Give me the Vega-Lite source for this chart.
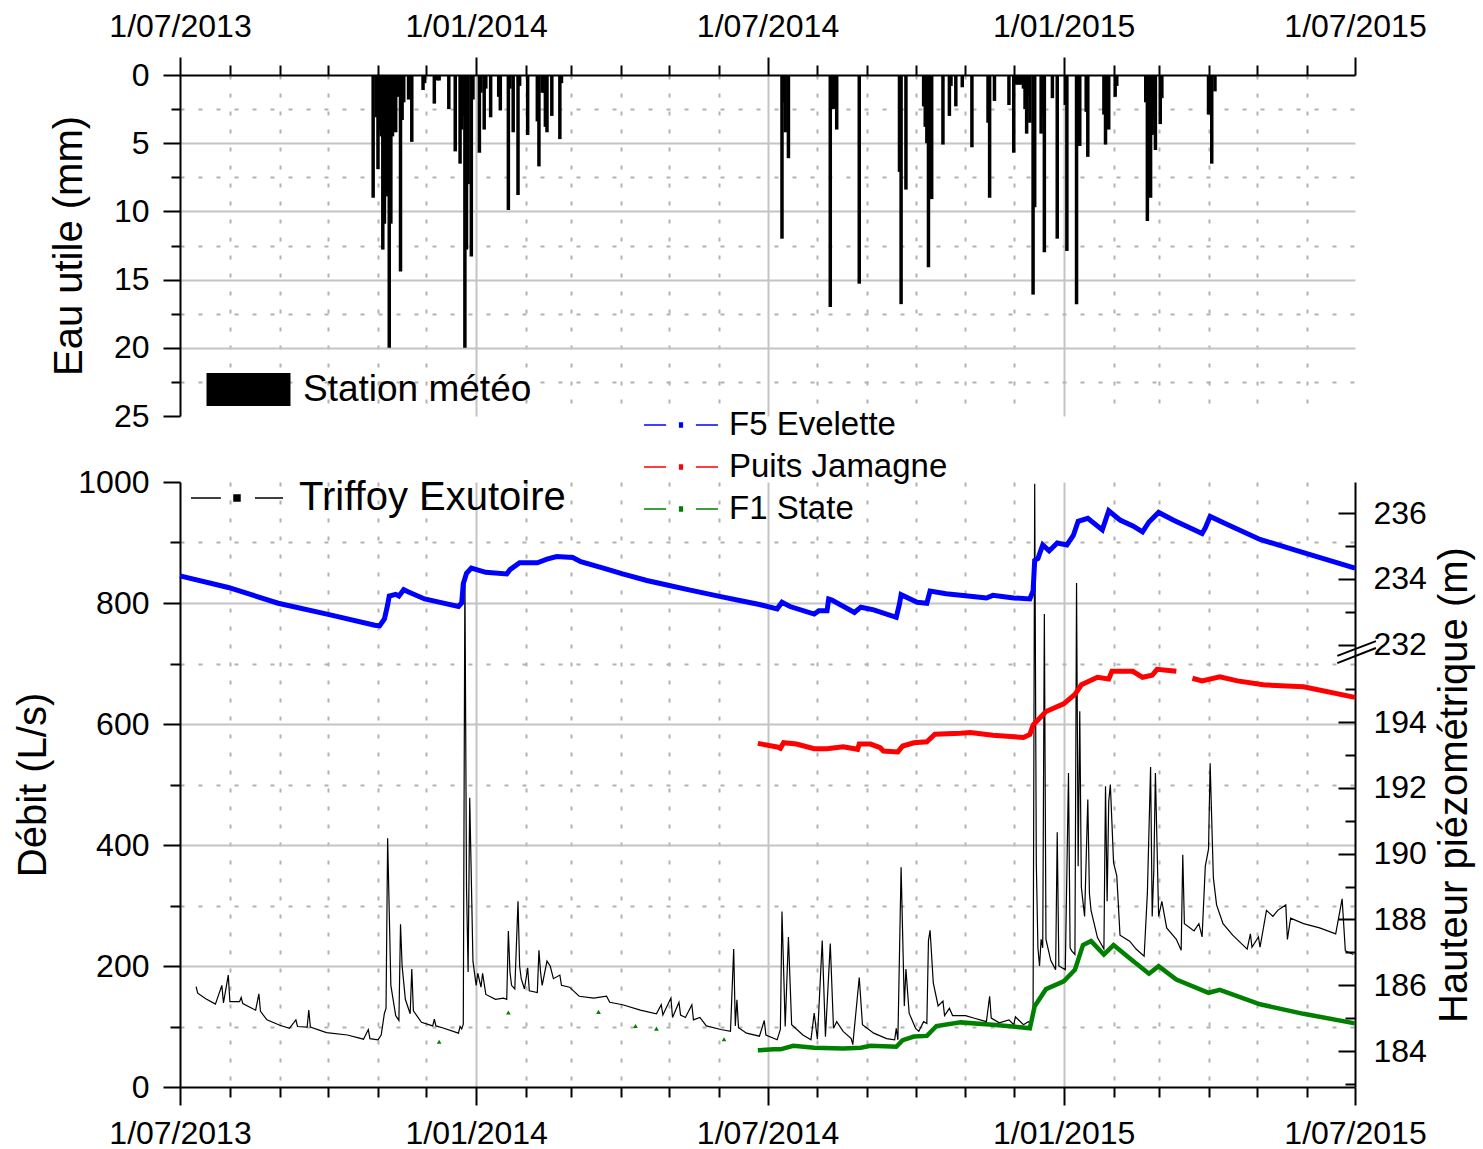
{
  "$schema": "https://vega.github.io/schema/vega-lite/v6.json",
  "background": "white",
  "padding": {"left": 13, "top": 10, "right": 5, "bottom": 5},
  "config": {
    "font": "Liberation Sans",
    "view": {"stroke": null},
    "axis": {"labelFont": "Liberation Sans", "titleFont": "Liberation Sans", "labelFontSize": 32, "titleFontSize": 40, "titleFontWeight": "normal", "labelColor": "black", "titleColor": "black", "domainColor": "black", "domainWidth": 2, "tickColor": "black", "tickWidth": 2, "gridWidth": 2},
    "legend": {"labelFont": "Liberation Sans", "labelColor": "black"}
  },
  "datasets": {
    "rain": [
      {"t":"2013-10-29","mm":9.0},{"t":"2013-10-31","mm":3.1},{"t":"2013-11-01","mm":6.9},{"t":"2013-11-02","mm":4.0},{"t":"2013-11-03","mm":4.5},{"t":"2013-11-04","mm":12.8},{"t":"2013-11-05","mm":10.9},{"t":"2013-11-06","mm":4.2},{"t":"2013-11-07","mm":8.9},{"t":"2013-11-08","mm":20.0},{"t":"2013-11-09","mm":10.9},{"t":"2013-11-10","mm":4.5},{"t":"2013-11-11","mm":3.8},{"t":"2013-11-12","mm":4.2},{"t":"2013-11-13","mm":1.6},{"t":"2013-11-15","mm":14.4},{"t":"2013-11-16","mm":3.3},{"t":"2013-11-17","mm":2.0},{"t":"2013-11-20","mm":1.8},{"t":"2013-11-22","mm":4.9},{"t":"2013-11-29","mm":1.1},{"t":"2013-11-30","mm":0.6},{"t":"2013-12-06","mm":2.1},{"t":"2013-12-08","mm":0.4},{"t":"2013-12-09","mm":0.4},{"t":"2013-12-15","mm":2.5},{"t":"2013-12-19","mm":5.6},{"t":"2013-12-22","mm":6.5},{"t":"2013-12-23","mm":4.0},{"t":"2013-12-24","mm":3.0},{"t":"2013-12-25","mm":20.0},{"t":"2013-12-26","mm":12.8},{"t":"2013-12-27","mm":8.0},{"t":"2013-12-29","mm":13.3},{"t":"2013-12-30","mm":1.8},
      {"t":"2014-01-03","mm":5.7},{"t":"2014-01-04","mm":1.3},{"t":"2014-01-06","mm":4.0},{"t":"2014-01-07","mm":1.0},{"t":"2014-01-10","mm":3.1},{"t":"2014-01-15","mm":1.6},{"t":"2014-01-16","mm":2.6},{"t":"2014-01-21","mm":9.9},{"t":"2014-01-22","mm":1.0},{"t":"2014-01-24","mm":4.2},{"t":"2014-01-27","mm":8.8},{"t":"2014-01-28","mm":0.8},{"t":"2014-02-02","mm":4.4},{"t":"2014-02-08","mm":3.4},{"t":"2014-02-09","mm":6.7},{"t":"2014-02-11","mm":1.3},{"t":"2014-02-12","mm":1.3},{"t":"2014-02-13","mm":3.8},{"t":"2014-02-14","mm":4.2},{"t":"2014-02-17","mm":3.0},{"t":"2014-02-22","mm":4.7},{"t":"2014-02-23","mm":0.6},
      {"t":"2014-07-10","mm":12.0},{"t":"2014-07-11","mm":2.0},{"t":"2014-07-12","mm":4.2},{"t":"2014-07-14","mm":6.1},{"t":"2014-08-09","mm":17.0},{"t":"2014-08-10","mm":1.5},{"t":"2014-08-11","mm":2.5},{"t":"2014-08-13","mm":4.0},{"t":"2014-08-27","mm":15.3},{"t":"2014-09-21","mm":7.1},{"t":"2014-09-22","mm":16.8},{"t":"2014-09-25","mm":8.4},{"t":"2014-10-06","mm":2.3},{"t":"2014-10-07","mm":3.8},{"t":"2014-10-08","mm":5.0},{"t":"2014-10-09","mm":14.1},{"t":"2014-10-11","mm":9.1},{"t":"2014-10-18","mm":5.1},{"t":"2014-10-22","mm":3.0},{"t":"2014-10-23","mm":0.8},{"t":"2014-10-26","mm":2.3},{"t":"2014-10-30","mm":0.9},{"t":"2014-11-05","mm":5.3},{"t":"2014-11-15","mm":3.5},{"t":"2014-11-16","mm":9.0},{"t":"2014-11-19","mm":1.9},{"t":"2014-11-28","mm":2.2},{"t":"2014-12-01","mm":5.7},{"t":"2014-12-02","mm":0.7},{"t":"2014-12-03","mm":0.7},{"t":"2014-12-04","mm":0.7},{"t":"2014-12-05","mm":0.7},{"t":"2014-12-06","mm":0.7},{"t":"2014-12-07","mm":1.0},{"t":"2014-12-08","mm":2.5},{"t":"2014-12-09","mm":4.3},{"t":"2014-12-10","mm":1.5},{"t":"2014-12-11","mm":3.5},{"t":"2014-12-13","mm":16.1},{"t":"2014-12-14","mm":9.7},{"t":"2014-12-18","mm":4.3},{"t":"2014-12-19","mm":3.0},{"t":"2014-12-20","mm":13.0},{"t":"2014-12-25","mm":1.7},{"t":"2014-12-28","mm":12.0},
      {"t":"2015-01-02","mm":2.2},{"t":"2015-01-03","mm":12.9},{"t":"2015-01-09","mm":16.8},{"t":"2015-01-11","mm":5.2},{"t":"2015-01-15","mm":2.7},{"t":"2015-01-16","mm":6.0},{"t":"2015-01-26","mm":2.9},{"t":"2015-01-27","mm":5.1},{"t":"2015-01-28","mm":3.5},{"t":"2015-01-29","mm":4.0},{"t":"2015-02-02","mm":1.6},{"t":"2015-02-03","mm":0.8},{"t":"2015-02-21","mm":2.0},{"t":"2015-02-22","mm":10.7},{"t":"2015-02-24","mm":9.0},{"t":"2015-02-25","mm":4.4},{"t":"2015-02-26","mm":3.0},{"t":"2015-02-27","mm":5.5},{"t":"2015-03-02","mm":3.6},{"t":"2015-03-03","mm":1.7},{"t":"2015-04-01","mm":2.9},{"t":"2015-04-02","mm":2.5},{"t":"2015-04-03","mm":6.5},{"t":"2015-04-05","mm":1.2}
    ],
    "triffoy": [
      {"t":"2013-07-11","q":166},{"t":"2013-07-12","q":155},{"t":"2013-07-17","q":146},{"t":"2013-07-23","q":137},{"t":"2013-07-27","q":168},{"t":"2013-07-28","q":139},{"t":"2013-07-31","q":185},{"t":"2013-08-01","q":141},{"t":"2013-08-07","q":141},{"t":"2013-08-08","q":148},{"t":"2013-08-09","q":138},{"t":"2013-08-17","q":127},{"t":"2013-08-19","q":154},{"t":"2013-08-20","q":125},{"t":"2013-08-24","q":111},{"t":"2013-09-01","q":102},{"t":"2013-09-07","q":97},{"t":"2013-09-11","q":111},{"t":"2013-09-12","q":100},{"t":"2013-09-18","q":99},{"t":"2013-09-19","q":127},{"t":"2013-09-20","q":99},{"t":"2013-09-30","q":90},{"t":"2013-10-13","q":86},{"t":"2013-10-23","q":79},{"t":"2013-10-26","q":95},{"t":"2013-10-27","q":80},{"t":"2013-11-01","q":78},{"t":"2013-11-03","q":86},{"t":"2013-11-05","q":122},{"t":"2013-11-06","q":130},{"t":"2013-11-07","q":411},{"t":"2013-11-09","q":168},{"t":"2013-11-12","q":118},{"t":"2013-11-14","q":110},{"t":"2013-11-15","q":269},{"t":"2013-11-16","q":200},{"t":"2013-11-18","q":145},{"t":"2013-11-21","q":121},{"t":"2013-11-22","q":195},{"t":"2013-11-23","q":126},{"t":"2013-11-28","q":107},{"t":"2013-12-05","q":101},{"t":"2013-12-06","q":112},{"t":"2013-12-07","q":101},{"t":"2013-12-11","q":98},{"t":"2013-12-21","q":89},{"t":"2013-12-22","q":100},{"t":"2013-12-23","q":96},{"t":"2013-12-24","q":104},{"t":"2013-12-25","q":850},{"t":"2013-12-26","q":330},{"t":"2013-12-27","q":190},{"t":"2013-12-28","q":478},{"t":"2013-12-30","q":208},
      {"t":"2014-01-01","q":168},{"t":"2014-01-02","q":188},{"t":"2014-01-04","q":165},{"t":"2014-01-05","q":188},{"t":"2014-01-07","q":153},{"t":"2014-01-13","q":145},{"t":"2014-01-18","q":147},{"t":"2014-01-20","q":145},{"t":"2014-01-21","q":258},{"t":"2014-01-22","q":190},{"t":"2014-01-23","q":168},{"t":"2014-01-25","q":162},{"t":"2014-01-27","q":307},{"t":"2014-01-28","q":200},{"t":"2014-01-29","q":179},{"t":"2014-01-31","q":162},{"t":"2014-02-02","q":197},{"t":"2014-02-03","q":159},{"t":"2014-02-08","q":156},{"t":"2014-02-09","q":226},{"t":"2014-02-10","q":190},{"t":"2014-02-11","q":168},{"t":"2014-02-14","q":208},{"t":"2014-02-16","q":200},{"t":"2014-02-18","q":179},{"t":"2014-02-22","q":185},{"t":"2014-02-23","q":168},{"t":"2014-02-28","q":165},{"t":"2014-03-06","q":150},{"t":"2014-03-15","q":147},{"t":"2014-03-23","q":150},{"t":"2014-03-25","q":140},{"t":"2014-04-02","q":136},{"t":"2014-04-13","q":127},{"t":"2014-04-23","q":121},{"t":"2014-04-26","q":136},{"t":"2014-04-27","q":119},{"t":"2014-05-02","q":147},{"t":"2014-05-03","q":115},{"t":"2014-05-07","q":140},{"t":"2014-05-08","q":119},{"t":"2014-05-11","q":115},{"t":"2014-05-15","q":136},{"t":"2014-05-16","q":111},{"t":"2014-05-20","q":115},{"t":"2014-05-24","q":101},{"t":"2014-06-02","q":95},{"t":"2014-06-08","q":92},{"t":"2014-06-10","q":228},{"t":"2014-06-11","q":101},{"t":"2014-06-12","q":144},{"t":"2014-06-13","q":98},{"t":"2014-06-18","q":89},{"t":"2014-06-26","q":84},{"t":"2014-06-29","q":110},{"t":"2014-06-30","q":86},
      {"t":"2014-07-07","q":78},{"t":"2014-07-09","q":95},{"t":"2014-07-10","q":290},{"t":"2014-07-12","q":100},{"t":"2014-07-14","q":248},{"t":"2014-07-16","q":103},{"t":"2014-07-23","q":86},{"t":"2014-07-28","q":78},{"t":"2014-07-30","q":122},{"t":"2014-08-01","q":79},{"t":"2014-08-04","q":242},{"t":"2014-08-06","q":83},{"t":"2014-08-09","q":237},{"t":"2014-08-11","q":97},{"t":"2014-08-13","q":108},{"t":"2014-08-17","q":92},{"t":"2014-08-22","q":80},{"t":"2014-08-23","q":70},{"t":"2014-08-27","q":181},{"t":"2014-08-29","q":103},{"t":"2014-09-05","q":89},{"t":"2014-09-13","q":80},{"t":"2014-09-18","q":78},{"t":"2014-09-19","q":97},{"t":"2014-09-20","q":78},{"t":"2014-09-22","q":363},{"t":"2014-09-24","q":134},{"t":"2014-09-25","q":195},{"t":"2014-09-27","q":122},{"t":"2014-10-01","q":97},{"t":"2014-10-03","q":92},{"t":"2014-10-06","q":108},{"t":"2014-10-08","q":105},{"t":"2014-10-09","q":242},{"t":"2014-10-10","q":259},{"t":"2014-10-12","q":172},{"t":"2014-10-15","q":134},{"t":"2014-10-18","q":142},{"t":"2014-10-19","q":118},{"t":"2014-10-22","q":130},{"t":"2014-10-24","q":118},{"t":"2014-11-01","q":118},{"t":"2014-11-06","q":114},{"t":"2014-11-14","q":108},{"t":"2014-11-16","q":150},{"t":"2014-11-17","q":114},{"t":"2014-11-22","q":106},{"t":"2014-11-28","q":111},{"t":"2014-12-01","q":103},{"t":"2014-12-02","q":116},{"t":"2014-12-07","q":103},{"t":"2014-12-10","q":108},{"t":"2014-12-12","q":105},{"t":"2014-12-13","q":124},{"t":"2014-12-14","q":997},{"t":"2014-12-15","q":371},{"t":"2014-12-16","q":230},{"t":"2014-12-17","q":200},{"t":"2014-12-18","q":244},{"t":"2014-12-19","q":230},{"t":"2014-12-20","q":782},{"t":"2014-12-21","q":244},{"t":"2014-12-24","q":209},{"t":"2014-12-27","q":194},{"t":"2014-12-28","q":421},{"t":"2014-12-29","q":200},
      {"t":"2015-01-02","q":194},{"t":"2015-01-04","q":519},{"t":"2015-01-05","q":230},{"t":"2015-01-06","q":225},{"t":"2015-01-08","q":219},{"t":"2015-01-09","q":833},{"t":"2015-01-10","q":365},{"t":"2015-01-11","q":621},{"t":"2015-01-12","q":330},{"t":"2015-01-14","q":282},{"t":"2015-01-16","q":475},{"t":"2015-01-17","q":320},{"t":"2015-01-18","q":292},{"t":"2015-01-22","q":247},{"t":"2015-01-26","q":228},{"t":"2015-01-27","q":497},{"t":"2015-01-28","q":307},{"t":"2015-01-29","q":472},{"t":"2015-01-30","q":500},{"t":"2015-02-01","q":371},{"t":"2015-02-03","q":349},{"t":"2015-02-05","q":251},{"t":"2015-02-11","q":241},{"t":"2015-02-15","q":228},{"t":"2015-02-20","q":216},{"t":"2015-02-22","q":320},{"t":"2015-02-24","q":529},{"t":"2015-02-25","q":282},{"t":"2015-02-26","q":358},{"t":"2015-02-27","q":519},{"t":"2015-03-01","q":282},{"t":"2015-03-03","q":307},{"t":"2015-03-06","q":263},{"t":"2015-03-12","q":244},{"t":"2015-03-15","q":226},{"t":"2015-03-16","q":384},{"t":"2015-03-17","q":270},{"t":"2015-03-23","q":258},{"t":"2015-03-26","q":270},{"t":"2015-03-28","q":248},{"t":"2015-03-30","q":365},{"t":"2015-04-01","q":393},{"t":"2015-04-02","q":535},{"t":"2015-04-04","q":346},{"t":"2015-04-06","q":301},{"t":"2015-04-10","q":270},{"t":"2015-04-16","q":251},{"t":"2015-04-25","q":228},{"t":"2015-04-27","q":253},{"t":"2015-04-28","q":231},{"t":"2015-05-02","q":248},{"t":"2015-05-03","q":231},{"t":"2015-05-07","q":292},{"t":"2015-05-11","q":282},{"t":"2015-05-14","q":292},{"t":"2015-05-19","q":301},{"t":"2015-05-20","q":244},{"t":"2015-05-22","q":279},{"t":"2015-05-30","q":270},{"t":"2015-06-09","q":263},{"t":"2015-06-19","q":253},{"t":"2015-06-23","q":311},{"t":"2015-06-25","q":225},{"t":"2015-06-30","q":219}
    ],
    "f5": [
      {"t":"2013-07-01","h":234.09},{"t":"2013-07-31","h":233.74},{"t":"2013-08-31","h":233.26},{"t":"2013-10-01","h":232.92},{"t":"2013-10-30","h":232.59},{"t":"2013-11-02","h":232.57},{"t":"2013-11-05","h":232.78},{"t":"2013-11-07","h":233.21},{"t":"2013-11-08","h":233.48},{"t":"2013-11-12","h":233.53},{"t":"2013-11-14","h":233.48},{"t":"2013-11-17","h":233.67},{"t":"2013-11-20","h":233.6},{"t":"2013-11-30","h":233.39},{"t":"2013-12-11","h":233.27},{"t":"2013-12-21","h":233.16},{"t":"2013-12-23","h":233.27},{"t":"2013-12-24","h":233.85},{"t":"2013-12-26","h":234.17},{"t":"2013-12-29","h":234.33},{"t":"2014-01-07","h":234.2},{"t":"2014-01-20","h":234.15},{"t":"2014-01-22","h":234.28},{"t":"2014-01-28","h":234.49},{"t":"2014-02-08","h":234.49},{"t":"2014-02-14","h":234.6},{"t":"2014-02-20","h":234.68},{"t":"2014-03-02","h":234.65},{"t":"2014-03-07","h":234.52},{"t":"2014-03-21","h":234.33},{"t":"2014-04-02","h":234.15},{"t":"2014-04-17","h":233.95},{"t":"2014-05-01","h":233.8},{"t":"2014-05-14","h":233.66},{"t":"2014-06-02","h":233.46},{"t":"2014-06-16","h":233.32},{"t":"2014-06-26","h":233.22},{"t":"2014-07-07","h":233.09},{"t":"2014-07-10","h":233.29},{"t":"2014-07-15","h":233.16},{"t":"2014-07-30","h":232.93},{"t":"2014-08-02","h":233.03},{"t":"2014-08-07","h":233.03},{"t":"2014-08-08","h":233.39},{"t":"2014-08-10","h":233.36},{"t":"2014-08-24","h":232.98},{"t":"2014-08-28","h":233.14},{"t":"2014-09-05","h":233.06},{"t":"2014-09-19","h":232.83},{"t":"2014-09-21","h":233.24},{"t":"2014-09-22","h":233.52},{"t":"2014-10-02","h":233.29},{"t":"2014-10-08","h":233.26},{"t":"2014-10-10","h":233.63},{"t":"2014-10-20","h":233.55},{"t":"2014-11-04","h":233.47},{"t":"2014-11-14","h":233.42},{"t":"2014-11-18","h":233.5},{"t":"2014-12-01","h":233.42},{"t":"2014-12-11","h":233.39},{"t":"2014-12-13","h":233.63},{"t":"2014-12-14","h":234.56},{"t":"2014-12-16","h":234.62},{"t":"2014-12-19","h":235.03},{"t":"2014-12-23","h":234.85},{"t":"2014-12-28","h":235.09},{"t":"2015-01-03","h":235.03},{"t":"2015-01-07","h":235.32},{"t":"2015-01-10","h":235.75},{"t":"2015-01-16","h":235.84},{"t":"2015-01-25","h":235.49},{"t":"2015-01-29","h":236.07},{"t":"2015-02-05","h":235.79},{"t":"2015-02-13","h":235.61},{"t":"2015-02-19","h":235.43},{"t":"2015-02-23","h":235.73},{"t":"2015-03-01","h":236.02},{"t":"2015-03-10","h":235.79},{"t":"2015-03-28","h":235.38},{"t":"2015-03-30","h":235.55},{"t":"2015-04-02","h":235.9},{"t":"2015-04-12","h":235.67},{"t":"2015-05-03","h":235.2},{"t":"2015-05-30","h":234.8},{"t":"2015-07-01","h":234.33}
    ],
    "jamagne": [
      {"t":"2014-06-25","h":193.35,"seg":1},{"t":"2014-07-07","h":193.24,"seg":1},{"t":"2014-07-09","h":193.2,"seg":1},{"t":"2014-07-11","h":193.37,"seg":1},{"t":"2014-07-19","h":193.33,"seg":1},{"t":"2014-07-30","h":193.19,"seg":1},{"t":"2014-08-07","h":193.19,"seg":1},{"t":"2014-08-17","h":193.25,"seg":1},{"t":"2014-08-26","h":193.17,"seg":1},{"t":"2014-08-27","h":193.33,"seg":1},{"t":"2014-09-03","h":193.33,"seg":1},{"t":"2014-09-09","h":193.22,"seg":1},{"t":"2014-09-11","h":193.12,"seg":1},{"t":"2014-09-20","h":193.09,"seg":1},{"t":"2014-09-23","h":193.27,"seg":1},{"t":"2014-09-30","h":193.37,"seg":1},{"t":"2014-10-08","h":193.4,"seg":1},{"t":"2014-10-13","h":193.63,"seg":1},{"t":"2014-10-29","h":193.66,"seg":1},{"t":"2014-11-04","h":193.68,"seg":1},{"t":"2014-11-18","h":193.6,"seg":1},{"t":"2014-12-07","h":193.53,"seg":1},{"t":"2014-12-11","h":193.62,"seg":1},{"t":"2014-12-13","h":193.91,"seg":1},{"t":"2014-12-21","h":194.32,"seg":1},{"t":"2015-01-01","h":194.55,"seg":1},{"t":"2015-01-08","h":194.84,"seg":1},{"t":"2015-01-12","h":195.13,"seg":1},{"t":"2015-01-22","h":195.36,"seg":1},{"t":"2015-01-29","h":195.31,"seg":1},{"t":"2015-01-31","h":195.54,"seg":1},{"t":"2015-02-13","h":195.54,"seg":1},{"t":"2015-02-19","h":195.36,"seg":1},{"t":"2015-02-25","h":195.42,"seg":1},{"t":"2015-02-28","h":195.6,"seg":1},{"t":"2015-03-12","h":195.54,"seg":1},
      {"t":"2015-03-22","h":195.33,"seg":2},{"t":"2015-03-28","h":195.25,"seg":2},{"t":"2015-04-08","h":195.37,"seg":2},{"t":"2015-04-19","h":195.25,"seg":2},{"t":"2015-05-05","h":195.13,"seg":2},{"t":"2015-05-30","h":195.07,"seg":2},{"t":"2015-07-01","h":194.75,"seg":2}
    ],
    "f1": [
      {"t":"2014-06-25","h":184.02},{"t":"2014-07-05","h":184.05},{"t":"2014-07-09","h":184.05},{"t":"2014-07-17","h":184.16},{"t":"2014-07-30","h":184.1},{"t":"2014-08-17","h":184.08},{"t":"2014-08-28","h":184.1},{"t":"2014-09-03","h":184.16},{"t":"2014-09-19","h":184.13},{"t":"2014-09-23","h":184.33},{"t":"2014-09-30","h":184.44},{"t":"2014-10-08","h":184.46},{"t":"2014-10-14","h":184.76},{"t":"2014-10-29","h":184.87},{"t":"2014-11-18","h":184.8},{"t":"2014-12-05","h":184.72},{"t":"2014-12-11","h":184.69},{"t":"2014-12-14","h":185.36},{"t":"2014-12-21","h":185.88},{"t":"2015-01-01","h":186.12},{"t":"2015-01-08","h":186.47},{"t":"2015-01-13","h":187.22},{"t":"2015-01-18","h":187.34},{"t":"2015-01-26","h":186.93},{"t":"2015-02-01","h":187.22},{"t":"2015-02-11","h":186.82},{"t":"2015-02-23","h":186.35},{"t":"2015-03-01","h":186.58},{"t":"2015-03-12","h":186.17},{"t":"2015-04-01","h":185.77},{"t":"2015-04-08","h":185.86},{"t":"2015-05-03","h":185.42},{"t":"2015-05-30","h":185.13},{"t":"2015-07-01","h":184.84}
    ],
    "f1pts": [
      {"t":"2013-12-09","h":184.28},{"t":"2014-01-21","h":185.17},{"t":"2014-03-18","h":185.19},{"t":"2014-04-10","h":184.76},{"t":"2014-04-23","h":184.68},{"t":"2014-06-04","h":184.36}
    ],
    "brk": [
      {"t":"2015-06-20","t2":"2015-07-14","h":195.79,"h2":196.25},
      {"t":"2015-06-20","t2":"2015-07-14","h":196.01,"h2":196.46}
    ]
  },
  "spacing": 66,
  "bounds": "flush",
  "resolve": {"scale": {"color": "independent", "fill": "independent", "stroke": "independent"}},
  "vconcat": [
    {
      "width": 1175,
      "height": 341,
      "layer": [
        {
          "data": {"name": "rain"},
          "mark": {"type": "bar", "size": 3.5},
          "encoding": {
            "x": {"field": "t", "type": "temporal",
              "scale": {"domain": [{"year":2013,"month":7,"date":1},{"year":2015,"month":7,"date":1}], "padding": 0},
              "axis": {"orient": "top", "title": null,
                "values": [{"year":2013,"month":7,"date":1},{"year":2013,"month":8,"date":1},{"year":2013,"month":9,"date":1},{"year":2013,"month":10,"date":1},{"year":2013,"month":11,"date":1},{"year":2013,"month":12,"date":1},{"year":2014,"month":1,"date":1},{"year":2014,"month":2,"date":1},{"year":2014,"month":3,"date":1},{"year":2014,"month":4,"date":1},{"year":2014,"month":5,"date":1},{"year":2014,"month":6,"date":1},{"year":2014,"month":7,"date":1},{"year":2014,"month":8,"date":1},{"year":2014,"month":9,"date":1},{"year":2014,"month":10,"date":1},{"year":2014,"month":11,"date":1},{"year":2014,"month":12,"date":1},{"year":2015,"month":1,"date":1},{"year":2015,"month":2,"date":1},{"year":2015,"month":3,"date":1},{"year":2015,"month":4,"date":1},{"year":2015,"month":5,"date":1},{"year":2015,"month":6,"date":1},{"year":2015,"month":7,"date":1}],
                "labelExpr": "month(datum.value) % 6 == 0 ? timeFormat(datum.value, '%-d/%m/%Y') : ''",
                "labelFlush": false, "labelOverlap": false, "labelPadding": 14,
                "tickSize": {"condition": {"test": "month(datum.value) % 6 == 0", "value": 18}, "value": 10},
                "grid": true,
                "gridDash": {"condition": {"test": "month(datum.value) % 6 == 0", "value": []}, "value": [4, 14]},
                "gridColor": {"condition": {"test": "month(datum.value) % 6 == 0", "value": "#c4c4c4"}, "value": "#b2b2b2"},
                "gridOpacity": {"condition": {"test": "datum.value <= datetime(2013,6,2) || datum.value >= datetime(2015,5,30)", "value": 0}, "value": 1}
              }
            },
            "y": {"field": "mm", "type": "quantitative",
              "scale": {"domain": [0, 25], "reverse": true, "nice": false},
              "axis": {"title": "Eau utile (mm)", "titlePadding": 24, "labelPadding": 14,
                "values": [0, 2.5, 5, 7.5, 10, 12.5, 15, 17.5, 20, 22.5, 25],
                "labelExpr": "datum.value % 5 == 0 ? format(datum.value, 'd') : ''",
                "labelOverlap": false,
                "tickSize": {"condition": {"test": "datum.value % 5 == 0", "value": 17}, "value": 9},
                "grid": true,
                "gridDash": {"condition": {"test": "datum.value % 5 == 0", "value": []}, "value": [4, 14]},
                "gridColor": {"condition": {"test": "datum.value % 5 == 0", "value": "#c4c4c4"}, "value": "#b2b2b2"},
                "gridOpacity": {"condition": {"test": "datum.value == 0 || datum.value == 25", "value": 0}, "value": 1}
              }
            },
            "fill": {"datum": "Station météo", "type": "nominal", "scale": {"range": ["black"]},
              "legend": {"orient": "none", "legendX": 50, "legendY": 296, "title": null, "padding": 0,
                "symbolType": "M-2.47,-0.97H2.47V0.97H-2.47Z", "symbolSize": 1156, "symbolStrokeWidth": 0,
                "labelFontSize": 37, "labelOffset": 36, "labelLimit": 600}}
          }
        }
      ]
    },
    {
      "width": 1175,
      "height": 605,
      "resolve": {"scale": {"y": "independent"}, "axis": {"x": "independent"}},
      "layer": [
        {
          "data": {"name": "triffoy"},
          "mark": {"type": "line", "strokeWidth": 1.2},
          "encoding": {
            "x": {"field": "t", "type": "temporal",
              "scale": {"domain": [{"year":2013,"month":7,"date":1},{"year":2015,"month":7,"date":1}]},
              "axis": {"orient": "bottom", "title": null,
                "values": [{"year":2013,"month":7,"date":1},{"year":2013,"month":8,"date":1},{"year":2013,"month":9,"date":1},{"year":2013,"month":10,"date":1},{"year":2013,"month":11,"date":1},{"year":2013,"month":12,"date":1},{"year":2014,"month":1,"date":1},{"year":2014,"month":2,"date":1},{"year":2014,"month":3,"date":1},{"year":2014,"month":4,"date":1},{"year":2014,"month":5,"date":1},{"year":2014,"month":6,"date":1},{"year":2014,"month":7,"date":1},{"year":2014,"month":8,"date":1},{"year":2014,"month":9,"date":1},{"year":2014,"month":10,"date":1},{"year":2014,"month":11,"date":1},{"year":2014,"month":12,"date":1},{"year":2015,"month":1,"date":1},{"year":2015,"month":2,"date":1},{"year":2015,"month":3,"date":1},{"year":2015,"month":4,"date":1},{"year":2015,"month":5,"date":1},{"year":2015,"month":6,"date":1},{"year":2015,"month":7,"date":1}],
                "labelExpr": "month(datum.value) % 6 == 0 ? timeFormat(datum.value, '%-d/%m/%Y') : ''",
                "labelFlush": false, "labelOverlap": false, "labelPadding": 13,
                "tickSize": {"condition": {"test": "month(datum.value) % 6 == 0", "value": 18}, "value": 10},
                "grid": true,
                "gridDash": {"condition": {"test": "month(datum.value) % 6 == 0", "value": []}, "value": [4, 14]},
                "gridColor": {"condition": {"test": "month(datum.value) % 6 == 0", "value": "#c4c4c4"}, "value": "#b2b2b2"},
                "gridOpacity": {"condition": {"test": "datum.value <= datetime(2013,6,2) || datum.value >= datetime(2015,5,30)", "value": 0}, "value": 1}
              }
            },
            "y": {"field": "q", "type": "quantitative",
              "scale": {"domain": [0, 1000], "nice": false},
              "axis": {"orient": "left", "title": "Débit (L/s)", "titlePadding": 24, "labelPadding": 14,
                "values": [0, 100, 200, 300, 400, 500, 600, 700, 800, 900, 1000],
                "labelExpr": "datum.value % 200 == 0 ? format(datum.value, 'd') : ''",
                "labelOverlap": false,
                "tickSize": {"condition": {"test": "datum.value % 200 == 0", "value": 17}, "value": 10},
                "grid": true,
                "gridDash": {"condition": {"test": "datum.value % 200 == 0", "value": []}, "value": [4, 14]},
                "gridColor": {"condition": {"test": "datum.value % 200 == 0", "value": "#c4c4c4"}, "value": "#b2b2b2"},
                "gridOpacity": {"condition": {"test": "datum.value == 0 || datum.value == 1000", "value": 0}, "value": 1}
              }
            },
            "stroke": {"datum": "Triffoy Exutoire", "type": "nominal", "scale": {"range": ["black"]},
              "legend": {"orient": "none", "legendX": 33, "legendY": -8, "title": null, "padding": 0,
                "symbolType": "M-2,0H-0.7M0.78,0H2M-0.13,-0.13H0.13V0.13H-0.13Z", "symbolSize": 2116,
                "symbolStrokeWidth": 1.5, "symbolFillColor": "black",
                "labelFontSize": 40, "labelOffset": 38, "labelLimit": 600}}
          }
        },
        {
          "data": {"name": "f5"},
          "mark": {"type": "line", "strokeWidth": 5},
          "encoding": {
            "x": {"field": "t", "type": "temporal", "axis": null,
              "scale": {"domain": [{"year":2013,"month":7,"date":1},{"year":2015,"month":7,"date":1}]}},
            "y": {"field": "h", "type": "quantitative", "axis": null,
              "scale": {"domain": [218.556, 236.945], "nice": false, "zero": false}},
            "color": {"datum": "F5 Evelette", "type": "nominal",
              "scale": {"domain": ["F5 Evelette", "Puits Jamagne", "F1 State"], "range": ["#0000ff", "#ff0000", "#008000"]},
              "legend": {"orient": "none", "legendX": 479, "legendY": -79, "title": null, "padding": 0, "rowPadding": 3,
                "symbolType": "M-1.76,0H-0.71M0.71,0H1.76M-0.1,-0.1H0.1M-0.1,-0.05H0.1M-0.1,0H0.1M-0.1,0.05H0.1M-0.1,0.1H0.1", "symbolSize": 1764,
                "symbolStrokeWidth": 1.5, "labelFontSize": 33, "labelOffset": 26, "labelLimit": 600}}
          }
        },
        {
          "data": {"name": "jamagne"},
          "mark": {"type": "line", "strokeWidth": 5},
          "encoding": {
            "x": {"field": "t", "type": "temporal", "axis": null,
              "scale": {"domain": [{"year":2013,"month":7,"date":1},{"year":2015,"month":7,"date":1}]}},
            "y": {"field": "h", "type": "quantitative",
              "scale": {"domain": [182.906, 201.295], "nice": false, "zero": false},
              "axis": {"orient": "right", "title": "Hauteur piézométrique (m)", "titleAngle": 270, "titleBaseline": "top", "titlePadding": 8,
                "labelPadding": 35, "grid": false, "labelOverlap": false,
                "values": [183, 184, 185, 186, 187, 188, 189, 190, 191, 192, 193, 194, 195, 196.35, 197.35, 198.35, 199.35, 200.35],
                "labelExpr": "indexof([184,186,188,190,192,194], datum.value) >= 0 ? datum.label : (indexof([196.35,198.35,200.35], datum.value) >= 0 ? format(datum.value + 35.65, '.0f') : '')",
                "tickSize": {"condition": {"test": "indexof([184,186,188,190,192,194,196.35,198.35,200.35], datum.value) >= 0", "value": -17}, "value": -10}
              }
            },
            "detail": {"field": "seg", "type": "nominal"},
            "color": {"datum": "Puits Jamagne", "type": "nominal",
              "scale": {"domain": ["F5 Evelette", "Puits Jamagne", "F1 State"], "range": ["#0000ff", "#ff0000", "#008000"]},
              "legend": {"orient": "none", "legendX": 479, "legendY": -79, "title": null, "padding": 0, "rowPadding": 3,
                "symbolType": "M-1.76,0H-0.71M0.71,0H1.76M-0.1,-0.1H0.1M-0.1,-0.05H0.1M-0.1,0H0.1M-0.1,0.05H0.1M-0.1,0.1H0.1", "symbolSize": 1764,
                "symbolStrokeWidth": 1.5, "labelFontSize": 33, "labelOffset": 26, "labelLimit": 600}}
          }
        },
        {
          "data": {"name": "f1"},
          "mark": {"type": "line", "strokeWidth": 4.5},
          "encoding": {
            "x": {"field": "t", "type": "temporal", "axis": null,
              "scale": {"domain": [{"year":2013,"month":7,"date":1},{"year":2015,"month":7,"date":1}]}},
            "y": {"field": "h", "type": "quantitative", "axis": null,
              "scale": {"domain": [182.906, 201.295], "nice": false, "zero": false}},
            "color": {"datum": "F1 State", "type": "nominal",
              "scale": {"domain": ["F5 Evelette", "Puits Jamagne", "F1 State"], "range": ["#0000ff", "#ff0000", "#008000"]},
              "legend": {"orient": "none", "legendX": 479, "legendY": -79, "title": null, "padding": 0, "rowPadding": 3,
                "symbolType": "M-1.76,0H-0.71M0.71,0H1.76M-0.1,-0.1H0.1M-0.1,-0.05H0.1M-0.1,0H0.1M-0.1,0.05H0.1M-0.1,0.1H0.1", "symbolSize": 1764,
                "symbolStrokeWidth": 1.5, "labelFontSize": 33, "labelOffset": 26, "labelLimit": 600}}
          }
        },
        {
          "data": {"name": "f1pts"},
          "mark": {"type": "point", "shape": "triangle-up", "filled": true, "size": 22, "color": "#008000", "opacity": 1},
          "encoding": {
            "x": {"field": "t", "type": "temporal", "axis": null,
              "scale": {"domain": [{"year":2013,"month":7,"date":1},{"year":2015,"month":7,"date":1}]}},
            "y": {"field": "h", "type": "quantitative", "axis": null,
              "scale": {"domain": [182.906, 201.295], "nice": false, "zero": false}}
          }
        },
        {
          "data": {"name": "brk"},
          "mark": {"type": "rule", "color": "black", "strokeWidth": 2},
          "encoding": {
            "x": {"field": "t", "type": "temporal", "axis": null,
              "scale": {"domain": [{"year":2013,"month":7,"date":1},{"year":2015,"month":7,"date":1}]}},
            "x2": {"field": "t2"},
            "y": {"field": "h", "type": "quantitative", "axis": null,
              "scale": {"domain": [182.906, 201.295], "nice": false, "zero": false}},
            "y2": {"field": "h2"}
          }
        }
      ]
    }
  ]
}
